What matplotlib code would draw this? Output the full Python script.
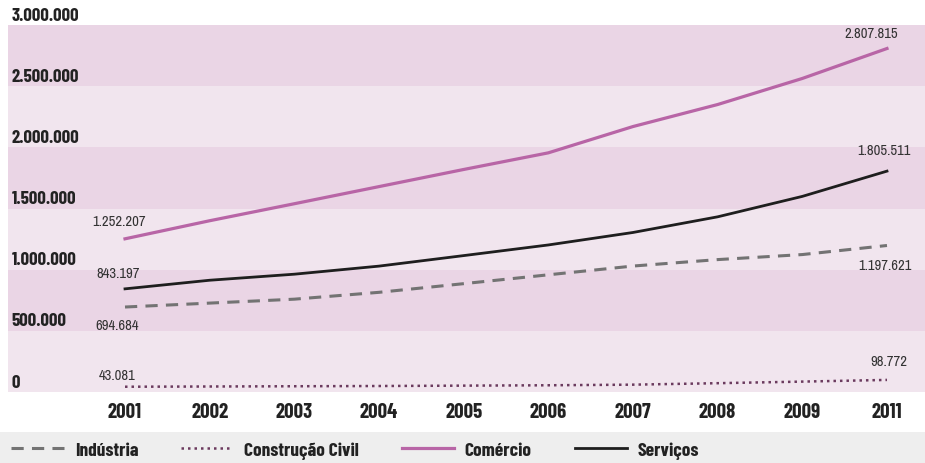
import matplotlib
matplotlib.use("Agg")
import matplotlib.pyplot as plt
from matplotlib.patches import Rectangle
from matplotlib.transforms import blended_transform_factory

# anos (o eixo não mostra 2010)
anos = ["2001", "2002", "2003", "2004", "2005", "2006", "2007", "2008", "2009", "2011"]

industria = [694684, 726700, 758800, 814800, 885600, 958000, 1029600, 1082300, 1123500, 1197621]
construcao = [43081, 45000, 47000, 49000, 52000, 55000, 60000, 72000, 85000, 98772]
comercio = [1252207, 1400000, 1539000, 1679000, 1819000, 1955000, 2170000, 2350000, 2563000, 2807815]
servicos = [843197, 913600, 963000, 1029000, 1115000, 1202000, 1304000, 1432000, 1599000, 1805511]

yticks = [0, 500000, 1000000, 1500000, 2000000, 2500000, 3000000]
ytick_labels = ["0", "500.000", "1.000.000", "1.500.000", "2.000.000", "2.500.000", "3.000.000"]

BOLD = ["Barlow Condensed", "DejaVu Sans"]
NARROW = ["Archivo Narrow", "Barlow Condensed", "DejaVu Sans"]
ESCURO = "#ead5e5"
CLARO = "#f1e5ee"


def fmt(v):
    return f"{v:,}".replace(",", ".")


fig = plt.figure(figsize=(9.25, 4.64), dpi=100)
ax = fig.add_axes([8 / 925, 71 / 464, 917 / 925, 367 / 464])

x = list(range(len(anos)))
ax.set_xlim(-1.382, 9.449)
ax.set_ylim(0, 3000000)

# faixas alternadas de 500 mil
for k in range(len(yticks) - 1):
    cor = CLARO if k % 2 == 0 else ESCURO
    ax.axhspan(yticks[k], yticks[k + 1], color=cor, lw=0, zorder=0)

l_ind, = ax.plot(x, industria, color="#737373", lw=2.2, ls=(0, (4, 2.7)), label="Indústria", zorder=3)
l_con, = ax.plot(x, construcao, color="#6b3a5e", lw=1.8, ls=(0, (1, 1.6)), label="Construção Civil", zorder=3)
l_com, = ax.plot(x, comercio, color="#b865a6", lw=2.3, label="Comércio", zorder=3)
l_ser, = ax.plot(x, servicos, color="#1e1e1e", lw=2.0, label="Serviços", zorder=3)

for s in ax.spines.values():
    s.set_visible(False)
ax.set_yticks([])
ax.set_xticks(x)
ax.set_xticklabels(anos, fontfamily=BOLD, fontweight=700, fontsize=15, color="#222222")
ax.tick_params(axis="x", length=0, pad=7)

# rótulos do eixo y, dentro da área das faixas
tr = blended_transform_factory(ax.transAxes, ax.transData)
for v, t in zip(yticks, ytick_labels):
    ax.annotate(t, (0.004, v), xycoords=tr, xytext=(0, 1.0), textcoords="offset points",
                ha="left", va="bottom", fontfamily=BOLD, fontweight=700,
                fontsize=13.5, color="#222222", annotation_clip=False)

# valores do primeiro e do último ano
rotulos = [
    (0, comercio[0], -4.3, 13),
    (0, servicos[0], -5, 11.5),
    (0, industria[0], -5.8, -13),
    (0, construcao[0], -6, 8.5),
    (9, comercio[-1], -11.5, 11),
    (9, servicos[-1], -2, 15),
    (9, industria[-1], -1.5, -14),
    (9, construcao[-1], 1.5, 13.5),
]
for i, v, dx, dy in rotulos:
    ax.annotate(fmt(v), (i, v), xytext=(dx, dy), textcoords="offset points",
                ha="center", va="center", fontfamily=NARROW, fontsize=10.5,
                color="#333333", annotation_clip=False)

# faixa cinza da legenda
fig.patches.append(Rectangle((0, 0), 1, 31 / 464, transform=fig.transFigure,
                             facecolor="#eeeeee", edgecolor="none", zorder=0))
leg = fig.legend(handles=[l_ind, l_con, l_com, l_ser], loc="center left",
                 bbox_to_anchor=(0.004, 13 / 464), ncol=4, frameon=False,
                 borderaxespad=0, handlelength=2.7, handletextpad=0.55,
                 columnspacing=2.2,
                 prop={"family": BOLD, "weight": 700, "size": 14})
for t in leg.get_texts():
    t.set_color("#222222")

fig.savefig("out.png", dpi=100)
